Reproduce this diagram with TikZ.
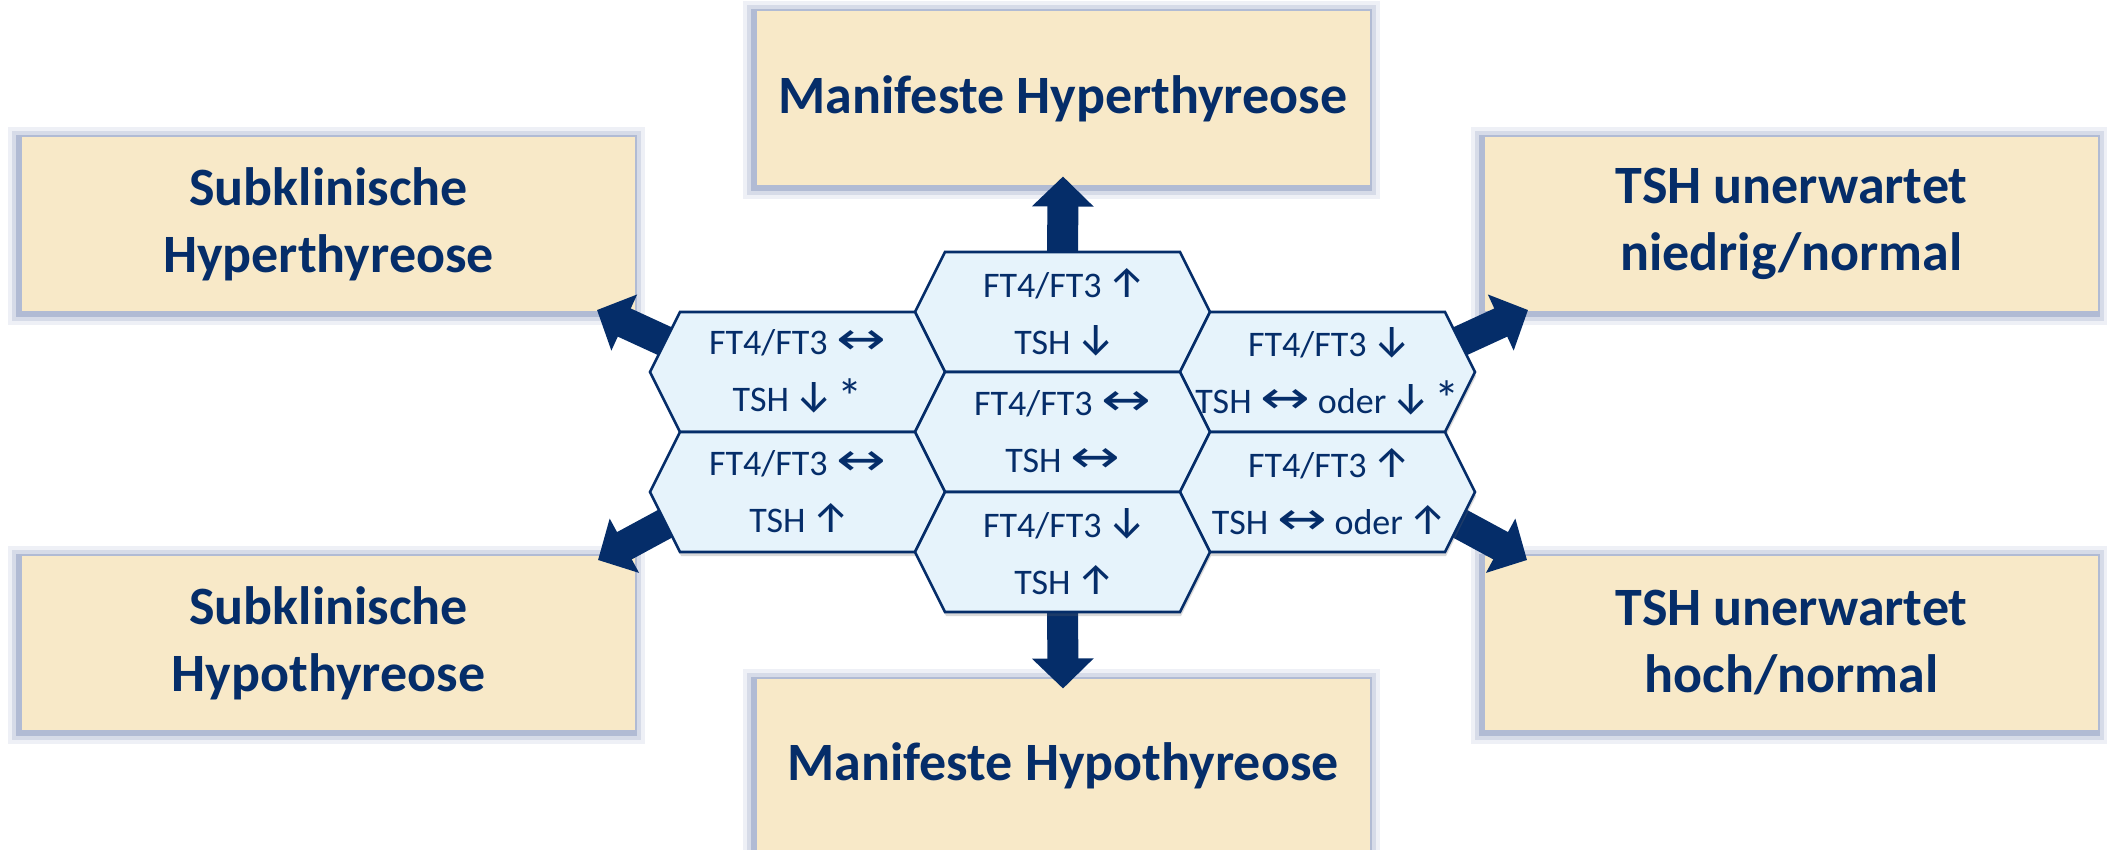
\documentclass[tikz,border=0pt]{standalone}
\usepackage{fontspec}
\usepackage{graphicx}
\setmainfont{Carlito}
\newfontfamily\firaarrows{Fira Sans}
\newfontfamily\dejaarrows{DejaVu Sans}
\usetikzlibrary{arrows.meta,shadows}

\definecolor{navy}{RGB}{5,45,105}
\definecolor{hexfill}{RGB}{230,243,251}
\definecolor{boxfill}{RGB}{248,233,200}
\definecolor{glow}{RGB}{140,155,192}

% arrow glyphs, cut to their ink and sized like the ones of the original slide
\newcommand\arrowfont[1]{\firaarrows\iffontchar\font#1\relax\else\dejaarrows\fi}
\newcommand\arrglyph[3]{\kern2pt\resizebox{#2}{#3}{\arrowfont{#1}%
    \kern-\XeTeXglyphbounds1 \XeTeXcharglyph#1\relax
    \symbol{#1}%
    \kern-\XeTeXglyphbounds3 \XeTeXcharglyph#1\relax}\kern1pt}
\newcommand\arrUp{\arrglyph{"2191}{13pt}{14.5pt}}
\newcommand\arrDown{\arrglyph{"2193}{13pt}{14.5pt}}
\newcommand\arrBoth{\arrglyph{"2194}{22pt}{12pt}}
\newcommand\note{\raisebox{-1.5pt}{\scalebox{1.4}{*}}}

\pgfdeclarelayer{boxes}
\pgfdeclarelayer{links}
\pgfdeclarelayer{cells}
\pgfsetlayers{boxes,links,cells,main}

\begin{document}
\begin{tikzpicture}[
  x=0.5pt, y=-0.5pt,
  cell/.style={text=navy, font=\fontsize{18}{28.5}\selectfont, align=center, inner sep=0pt},
  hexline/.style={draw=navy, line width=1.3pt, fill=hexfill, line join=miter,
                  drop shadow={shadow xshift=0.5pt, shadow yshift=-2pt, opacity=0.25, fill=black!60}},
  hexagon/.pic={\path[hexline] (-147.5,0) -- (-117.5,-60) -- (117.5,-60) -- (147.5,0)
                  -- (117.5,60) -- (-117.5,60) -- cycle;},
  outcome/.style={fill=boxfill, text=navy, align=center, inner sep=0pt, outer sep=0pt,
                  font=\fontsize{27}{33.5}\selectfont\bfseries,
                  minimum width=306.5pt, minimum height=87pt,
                  preaction={draw=glow, draw opacity=0.15, line width=12pt,
                             transform canvas={xshift=-1pt, yshift=-1pt}},
                  preaction={draw=glow, draw opacity=0.25, line width=8pt,
                             transform canvas={xshift=-1pt, yshift=-1pt}},
                  preaction={draw=glow, draw opacity=0.5, line width=4pt,
                             transform canvas={xshift=-1pt, yshift=-1pt}}},
  flow/.style={draw=navy, line width=15.5pt, -{Triangle[width=30pt, length=15pt]}},
]
  \useasboundingbox (0,0) rectangle (2107,850);

  % lab constellations
  \node[cell] (top) at (1062.5,312) {FT4/FT3 \arrUp\\TSH \arrDown};
  \node[cell] (ul)  at (797.5,372)  {FT4/FT3 \arrBoth\\TSH \arrDown\ \note};
  \node[cell] (ur)  at (1327.5,372) {FT4/FT3 \arrDown\\TSH \arrBoth\ oder \arrDown\ \note};
  \node[cell] (mid) at (1062.5,432) {FT4/FT3 \arrBoth\\TSH \arrBoth};
  \node[cell] (ll)  at (797.5,492)  {FT4/FT3 \arrBoth\\TSH \arrUp};
  \node[cell] (lr)  at (1327.5,492) {FT4/FT3 \arrUp\\TSH \arrBoth\ oder \arrUp};
  \node[cell] (bot) at (1062.5,552) {FT4/FT3 \arrDown\\TSH \arrUp};

  \begin{pgfonlayer}{cells}
    \pic at (top) {hexagon};
    \pic at (ul)  {hexagon};
    \pic at (ur)  {hexagon};
    \pic at (mid) {hexagon};
    \pic at (ll)  {hexagon};
    \pic at (lr)  {hexagon};
    \pic at (bot) {hexagon};
  \end{pgfonlayer}

  % diagnoses
  \begin{pgfonlayer}{boxes}
    \node[outcome] (manhyper) at (1063,98.5)   {Manifeste Hyperthyreose};
    \node[outcome] (subhyper) at (328.5,224)   {Subklinische\\Hyperthyreose};
    \node[outcome] (unlow)    at (1791.5,224)  {TSH unerwartet\\niedrig/normal};
    \node[outcome] (subhypo)  at (328.5,643)   {Subklinische\\Hypothyreose};
    \node[outcome] (unhigh)   at (1791.5,643)  {TSH unerwartet\\hoch/normal};
    \node[outcome] (manhypo)  at (1063,765.5)  {Manifeste Hypothyreose};
  \end{pgfonlayer}

  \begin{pgfonlayer}{links}
    \draw[flow] ([shift={(0,-45)}]top.center) -- ([shift={(0,-9)}]manhyper.south);
    \draw[flow] ([shift={(0,45)}]bot.center) -- ([shift={(0,10)}]manhypo.north);
    \draw[flow] ([shift={(-120,-25)}]ul.center) -- ([shift={(-38,-1)}]subhyper.south east);
    \draw[flow] ([shift={(-120,25)}]ll.center) -- ([shift={(-37,4)}]subhypo.north east);
    \draw[flow] ([shift={(120,-25)}]ur.center) -- ([shift={(43,-1)}]unlow.south west);
    \draw[flow] ([shift={(120,25)}]lr.center) -- ([shift={(42,4)}]unhigh.north west);
  \end{pgfonlayer}
\end{tikzpicture}
\end{document}
